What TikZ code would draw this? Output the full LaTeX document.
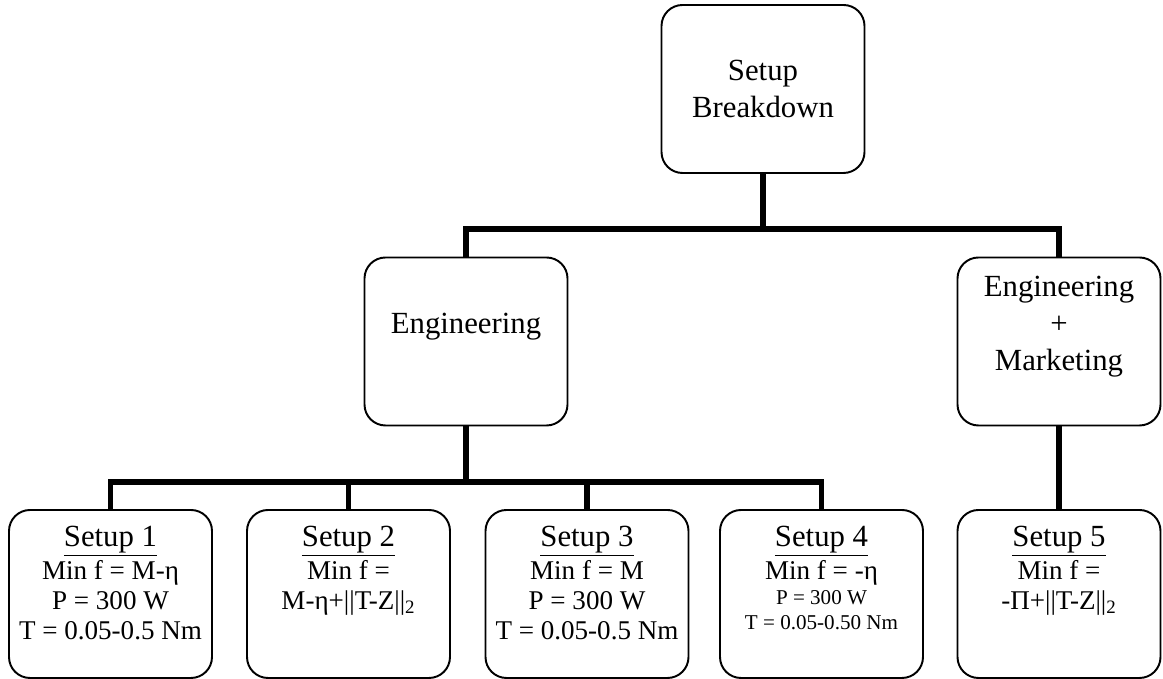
\documentclass[tikz,border=0pt]{standalone}
\usepackage{fontspec}
\setmainfont{Liberation Serif}
\newcommand{\setupbox}[1]{\parbox[c][2.72cm][t]{3.9cm}{\centering #1}}
\newcommand{\setuplabel}[1]{{\fontsize{17.5}{21}\selectfont\underline{#1}}}

\begin{document}
\begin{tikzpicture}[
    box/.style={draw, rounded corners=0.42cm, line width=1.1pt, minimum width=4.06cm, minimum height=3.36cm, inner sep=0pt, align=center, font=\fontsize{17.5}{21}\selectfont},
    leaf/.style={box, font=\fontsize{15.4}{17}\selectfont},
    bus/.style={line width=3pt}]
    \useasboundingbox (0,0) rectangle (23.26,13.58);

    \node[box] (brk) at (15.26,11.80) {Setup\\Breakdown};
    \node[box] (eng) at (9.32,6.75) {Engineering\\~};
    \node[box] (engmkt) at (21.18,6.75) {Engineering\\+\\Marketing\\~};

    \node[leaf] (s1) at (2.21,1.70) {\setupbox{\setuplabel{Setup 1}\\[2pt] Min f = M-η\\ P = 300 W\\ T = 0.05-0.5 Nm}};
    \node[leaf] (s2) at (6.97,1.70) {\setupbox{\setuplabel{Setup 2}\\[2pt] Min f =\\ M-η+||T-Z||\textsubscript{2}}};
    \node[leaf] (s3) at (11.74,1.70) {\setupbox{\setuplabel{Setup 3}\\[2pt] Min f = M\\ P = 300 W\\ T = 0.05-0.5 Nm}};
    \node[leaf] (s4) at (16.43,1.70) {\setupbox{\setuplabel{Setup 4}\\[2pt] Min f = -η\par
        {\fontsize{12}{14.2}\selectfont P = 300 W\\ T = 0.05-0.50 Nm\par}}};
    \node[leaf] (s5) at (21.18,1.70) {\setupbox{\setuplabel{Setup 5}\\[2pt] Min f =\\ -Π+||T-Z||\textsubscript{2}}};

    \coordinate (j1) at (15.26,9.0);
    \coordinate (j2) at (9.32,3.94);

    \draw[bus] (brk) -- (j1);
    \draw[bus] (eng.north) |- (j1) -| (engmkt.north);
    \draw[bus] (eng) -- (j2);
    \draw[bus] (s1.north) |- (j2) -| (s4.north);
    \draw[bus] (s2.north) -- (s2.north |- j2);
    \draw[bus] (s3.north) -- (s3.north |- j2);
    \draw[bus] (engmkt) -- (s5);
\end{tikzpicture}
\end{document}
